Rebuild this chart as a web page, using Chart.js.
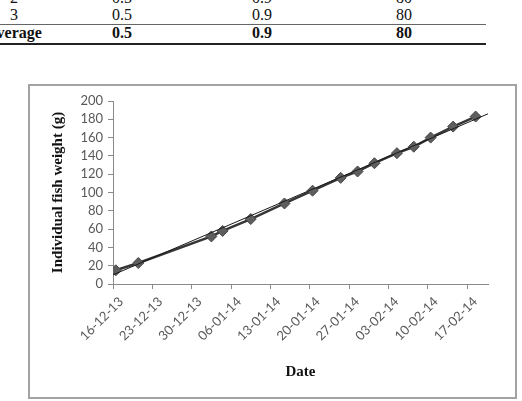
<!DOCTYPE html>
<html>
<head>
<meta charset="utf-8">
<script src="https://cdn.jsdelivr.net/npm/chart.js@4.4.0/dist/chart.umd.min.js"></script>
<style>
  html, body { margin: 0; padding: 0; background: #fff; width: 522px; height: 401px; overflow: hidden; }
  .t { position: absolute; font-family: "Liberation Serif", "Times New Roman", serif; font-size: 16px; line-height: 16px; color: #111; white-space: nowrap; text-align: center; width: 80px; }
  .b { font-weight: bold; }
  .rule { position: absolute; left: 0; width: 486px; }
  #box { position: absolute; left: 28px; top: 84px; width: 485px; height: 311px; border: 2px solid #a3a3a3; }
  #c { position: absolute; left: 0; top: 0; }
</style>
</head>
<body>
<!-- table fragment above the figure -->
<div class="t" style="left:-26px; top:-10px;">2</div>
<div class="t" style="left:82px; top:-10px;">0.5</div>
<div class="t" style="left:222px; top:-10px;">0.9</div>
<div class="t" style="left:364px; top:-10px;">80</div>
<div class="t" style="left:-26px; top:7px;">3</div>
<div class="t" style="left:82px; top:7px;">0.5</div>
<div class="t" style="left:222px; top:7px;">0.9</div>
<div class="t" style="left:364px; top:7px;">80</div>
<div class="rule" style="top:24px; height:1px; background:#666;"></div>
<div class="t b" style="left:-26px; top:25px;">Average</div>
<div class="t b" style="left:82px; top:25px;">0.5</div>
<div class="t b" style="left:222px; top:25px;">0.9</div>
<div class="t b" style="left:364px; top:25px;">80</div>
<div class="rule" style="top:43px; height:2px; background:#222;"></div>

<div id="box"></div>
<canvas id="c" width="522" height="401"></canvas>

<script>
// ---- data ----
const sampleDates = ['2013-12-16','2013-12-20','2014-01-02','2014-01-04','2014-01-09','2014-01-15',
  '2014-01-20','2014-01-25','2014-01-28','2014-01-31','2014-02-04','2014-02-07','2014-02-10',
  '2014-02-14','2014-02-18'];
const fishWeight = [15, 23, 52, 58, 71, 88, 102, 116, 123, 132, 143, 150, 160, 172, 183];
// linear trendline, read at its two visible ends (days from 16-12-13 / grams)
const trendDays = [0, 66.7];
const trendWeight = [10, 186];
const tickDays = [0, 7, 14, 21, 28, 35, 42, 49, 56, 63];
const tickLabels = ['16-12-13','23-12-13','30-12-13','06-01-14','13-01-14','20-01-14',
  '27-01-14','03-02-14','10-02-14','17-02-14'];
const yTicks = [0, 20, 40, 60, 80, 100, 120, 140, 160, 180, 200];

const origin = Date.UTC(2013, 11, 16);
function dayOf(s) {
  const p = s.split('-').map(Number);
  return (Date.UTC(p[0], p[1] - 1, p[2]) - origin) / 86400000;
}
// date-axis points sit in the middle of their day
const mainPts = sampleDates.map((d, i) => ({ x: dayOf(d) + 0.5, y: fishWeight[i] }));
const trendPts = trendDays.map((d, i) => ({ x: d, y: trendWeight[i] }));

const axisGray = '#8a8a8a';
const tickFont = { family: 'Lato, "Open Sans", sans-serif', size: 13 };

new Chart(document.getElementById('c'), {
  type: 'scatter',
  data: {
    datasets: [
      {
        data: mainPts,
        showLine: true,
        borderColor: '#363636',
        borderWidth: 2.5,
        pointStyle: 'rectRot',
        pointRadius: 5.5,
        pointBackgroundColor: '#5e5e5e',
        pointBorderColor: '#474747',
        pointBorderWidth: 1,
        order: 2
      },
      {
        data: trendPts,
        showLine: true,
        borderColor: '#1a1a1a',
        borderWidth: 1,
        pointRadius: 0,
        order: 1
      }
    ]
  },
  options: {
    responsive: false,
    animation: false,
    devicePixelRatio: 1,
    layout: { padding: { left: 40, top: 101, right: 34, bottom: 0 } },
    plugins: { legend: { display: false }, tooltip: { enabled: false } },
    scales: {
      x: {
        type: 'linear',
        min: 0,
        max: 66.7,
        afterBuildTicks: s => { s.ticks = tickDays.map(v => ({ value: v })); },
        afterFit: s => { s.height = 117; },
        ticks: {
          autoSkip: false,
          minRotation: 45,
          maxRotation: 45,
          padding: 5,
          labelOffset: 8,
          color: '#595959',
          font: tickFont,
          callback: (v, i) => tickLabels[i]
        },
        grid: { drawOnChartArea: false, drawTicks: true, tickLength: 5, color: axisGray },
        border: { display: true, color: axisGray, width: 1 },
        title: {
          display: true,
          text: 'Date',
          color: '#111',
          font: { family: '"Liberation Serif", serif', size: 15, weight: 'bold' },
          padding: { top: 0, bottom: 20 }
        }
      },
      y: {
        min: 0,
        max: 200,
        afterBuildTicks: s => { s.ticks = yTicks.map(v => ({ value: v })); },
        afterFit: s => { s.width = 73; },
        ticks: { autoSkip: false, color: '#595959', font: tickFont, padding: 5 },
        grid: { drawOnChartArea: false, drawTicks: true, tickLength: 5, color: axisGray },
        border: { display: true, color: axisGray, width: 1 },
        title: {
          display: true,
          text: 'Individual fish weight (g)',
          color: '#111',
          font: { family: '"Liberation Serif", serif', size: 15, weight: 'bold' },
          padding: { top: 9, bottom: 0 }
        }
      }
    }
  }
});
</script>
</body>
</html>
